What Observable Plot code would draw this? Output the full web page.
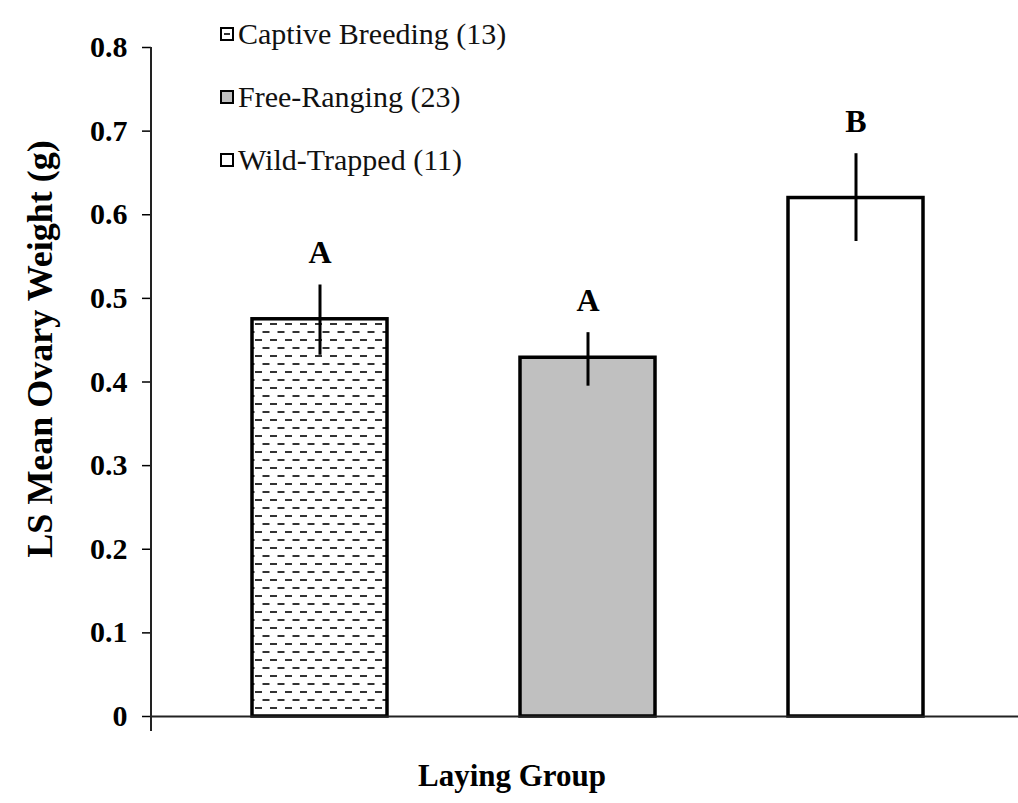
<!DOCTYPE html>
<html>
<head>
<meta charset="utf-8">
<script src="https://cdn.jsdelivr.net/npm/d3@7"></script>
<script src="https://cdn.jsdelivr.net/npm/@observablehq/plot@0.6"></script>
<style>
  body { margin: 0; background: #fff; }
  #wrap { position: relative; width: 1018px; height: 803px; }
  #legend { position: absolute; left: 220px; top: 2px; font-family: "Liberation Serif", "Times New Roman", serif; font-size: 30px; color: #111; }
  .row { display: flex; align-items: center; height: 63px; }
  .row svg { margin-right: 4px; }
</style>
</head>
<body>
<div id="wrap">
  <div id="chart"></div>
  <div id="legend"></div>
</div>
<script>
// ---- data ----
const groups   = ["Captive Breeding", "Free-Ranging", "Wild-Trapped"];
const counts   = [13, 23, 11];
const means    = [0.475, 0.429, 0.620];
const errLow   = [0.432, 0.395, 0.568];
const errHigh  = [0.516, 0.459, 0.673];
const letters  = ["A", "A", "B"];
const yTicks   = [0, 0.1, 0.2, 0.3, 0.4, 0.5, 0.6, 0.7, 0.8];
const yTickLabels = ["0", "0.1", "0.2", "0.3", "0.4", "0.5", "0.6", "0.7", "0.8"];
const yLabel = "LS Mean Ovary Weight (g)";
const xLabel = "Laying Group";

const data = groups.map((g, i) => ({
  group: g, mean: means[i], low: errLow[i], high: errHigh[i], letter: letters[i]
}));

const serif = "Liberation Serif, Times New Roman, serif";

const chart = Plot.plot({
  width: 1018,
  height: 803,
  marginLeft: 151,
  marginRight: 0,
  marginTop: 47,
  marginBottom: 87,
  style: { fontFamily: serif, background: "white", color: "black" },
  x: { domain: groups, axis: null, paddingInner: 0.497, paddingOuter: 0.363, align: 0.515 },
  y: { domain: [0, 0.8] },
  color: { domain: groups, range: ["url(#hatch)", "#c0c0c0", "#ffffff"] },
  marks: [
    Plot.axisY({
      ticks: yTicks,
      tickFormat: d => yTickLabels[yTicks.findIndex(t => Math.abs(t - d) < 1e-9)],
      tickSize: 9, tickPadding: 15, strokeWidth: 1.5,
      fontSize: 30, fontWeight: "bold", label: null
    }),
    Plot.barY(data, { x: "group", y: "mean", fill: "group", stroke: "black", strokeWidth: 3.5 }),
    Plot.ruleY([0], { stroke: "#222", strokeWidth: 2 }),
    Plot.ruleX(data, { x: "group", y1: "low", y2: "high", stroke: "black", strokeWidth: 3 }),
    Plot.text(data, { x: "group", y: "high", text: "letter", dy: -32, fontSize: 32, fontWeight: "bold", fill: "black" }),
    Plot.text([yLabel], { frameAnchor: "left", textAnchor: "middle", dx: -111, dy: -33, rotate: -90, fontSize: 36, fontWeight: "bold", fill: "black" }),
    Plot.text([xLabel], { frameAnchor: "bottom", textAnchor: "middle", dx: -73, dy: 69, fontSize: 31, fontWeight: "bold", fill: "black" })
  ]
});

// hatch pattern for the captive-breeding bar
const svg = d3.select(chart);
const defs = svg.insert("defs", ":first-child");
const pat = defs.append("pattern")
  .attr("id", "hatch").attr("patternUnits", "userSpaceOnUse")
  .attr("width", 15).attr("height", 16);
pat.append("rect").attr("width", 15).attr("height", 16).attr("fill", "white");
pat.append("rect").attr("x", 0).attr("y", 3).attr("width", 7).attr("height", 2).attr("fill", "#333");
pat.append("rect").attr("x", 7.5).attr("y", 11).attr("width", 7).attr("height", 2).attr("fill", "#333");

// y-axis spine (extends slightly below the baseline as in the reference)
const ys = chart.scale("y");
svg.append("line")
  .attr("x1", 151).attr("x2", 151)
  .attr("y1", ys.apply(0.8)).attr("y2", ys.apply(0) + 15)
  .attr("stroke", "#222").attr("stroke-width", 2);

document.getElementById("chart").appendChild(chart);

// legend
const legend = d3.select("#legend");
const swatchFill = ["white", "#c0c0c0", "white"];
groups.forEach((g, i) => {
  const row = legend.append("div").attr("class", "row");
  const s = row.append("svg").attr("width", 14).attr("height", 14);
  s.append("rect").attr("x", 1).attr("y", 1).attr("width", 12).attr("height", 12)
    .attr("fill", swatchFill[i]).attr("stroke", "black").attr("stroke-width", 2);
  if (i === 0) s.append("rect").attr("x", 4).attr("y", 6).attr("width", 6).attr("height", 2).attr("fill", "#333");
  row.append("span").text(`${g} (${counts[i]})`);
});
</script>
</body>
</html>
